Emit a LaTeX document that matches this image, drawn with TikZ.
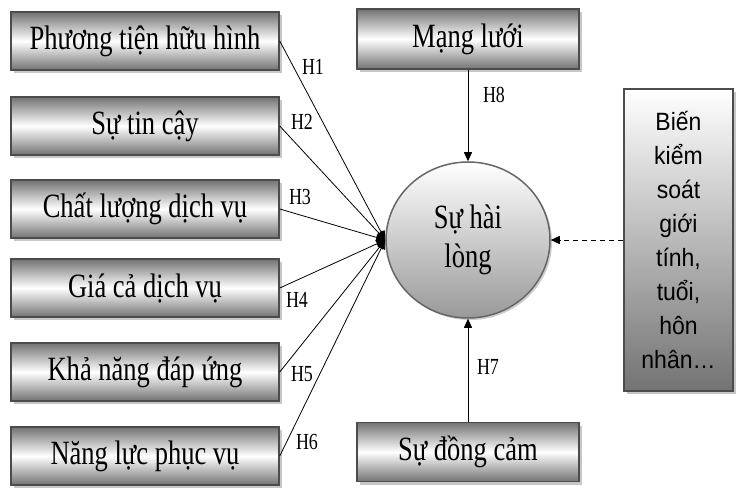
\documentclass[tikz,border=0pt]{standalone}
\usepackage{fontspec}
\setmainfont{Liberation Serif}[FakeStretch=0.78]
\newfontfamily\ctrlfont{Liberation Sans}[FakeStretch=0.92]
\usetikzlibrary{arrows.meta,shadows,shapes.geometric}
\tikzset{
  factor/.style={draw=black!70,line width=1.5pt,top color=black!55,bottom color=black!55,middle color=white,
    minimum width=268pt,minimum height=58pt,inner sep=0pt,font=\fontsize{34}{36}\selectfont,
    drop shadow={shadow xshift=3pt,shadow yshift=-3pt,fill=black!22,opacity=1}},
  hub/.style={ellipse,draw=black!60,line width=1.5pt,top color=white,bottom color=black!40,
    minimum width=164pt,minimum height=156pt,inner sep=0pt,align=center,font=\fontsize{34}{39}\selectfont,
    drop shadow={shadow xshift=2pt,shadow yshift=-2pt,fill=black!20,opacity=1}},
  ctrl/.style={draw=black!70,line width=1.5pt,top color=white,bottom color=black!55,
    minimum width=109pt,minimum height=302pt,inner sep=0pt,align=center,font=\ctrlfont\fontsize{25}{34}\selectfont,
    drop shadow={shadow xshift=3pt,shadow yshift=-3pt,fill=black!22,opacity=1}},
  link/.style={line width=0.8pt,-{Triangle[length=9pt,width=8pt]}},
  hyp/.style={font=\fontsize{23}{25}\selectfont,inner sep=0pt}
}
\begin{document}
\begin{tikzpicture}[x=1pt,y=-1pt]
\useasboundingbox (0,0) rectangle (750,500);
% factors on the left
\node[factor] (tang) at (145,41) {Phương tiện hữu hình};
\node[factor] (tincay) at (145,126) {Sự tin cậy};
\node[factor] (chatluong) at (145,209) {Chất lượng dịch vụ};
\node[factor] (giaca) at (145,288) {Giá cả dịch vụ};
\node[factor] (dapung) at (145,372) {Khả năng đáp ứng};
\node[factor] (phucvu) at (145,456) {Năng lực phục vụ};
% top and bottom factors
\node[factor,minimum width=222pt,minimum height=60pt] (mangluoi) at (468,39) {Mạng lưới};
\node[factor,minimum width=222pt,minimum height=59pt] (dongcam) at (468,452) {Sự đồng cảm};
% outcome and control variables
\node[hub] (hailong) at (468,240) {Sự hài\\lòng};
\node[ctrl] (kiemsoat) at (678.5,240) {Biến\\kiểm\\soát\\giới\\tính,\\tuổi,\\hôn\\nhân…};
% hypotheses
\draw[link] (tang.east) -- (hailong.west);
\draw[link] (tincay.east) -- (hailong.west);
\draw[link] (chatluong.east) -- (hailong.west);
\draw[link] (giaca.east) -- (hailong.west);
\draw[link] (dapung.east) -- (hailong.west);
\draw[link] (phucvu.east) -- (hailong.west);
\draw[link] (mangluoi.south) -- (hailong.north);
\draw[link] (dongcam.north) -- (hailong.south);
\draw[link,dashed,dash pattern=on 5pt off 4pt] (kiemsoat.west) -- (hailong.east);
\node[hyp] (h1) at (313,67) {H1};
\node[hyp] (h2) at (302,122) {H2};
\node[hyp] (h3) at (300,197) {H3};
\node[hyp] (h4) at (297,300) {H4};
\node[hyp] (h5) at (302,374) {H5};
\node[hyp] (h6) at (307,442) {H6};
\node[hyp] (h8) at (494,95) {H8};
\node[hyp] (h7) at (488,367) {H7};
\end{tikzpicture}
\end{document}
